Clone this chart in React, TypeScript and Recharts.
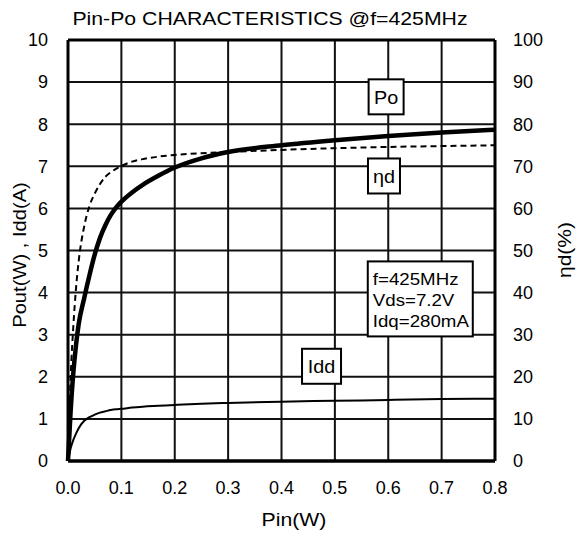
import { LineChart, Line, XAxis, YAxis, CartesianGrid, ReferenceLine, ReferenceDot } from 'recharts';

const TITLE = 'Pin-Po CHARACTERISTICS @f=425MHz';
const PIN = [0, 0.005, 0.01, 0.015, 0.02, 0.03, 0.04, 0.05, 0.06, 0.07, 0.08, 0.09, 0.1, 0.12, 0.14, 0.17, 0.2, 0.25, 0.3, 0.4, 0.5, 0.6, 0.7, 0.8];
const PO = [0, 1.2, 2.1, 2.75, 3.25, 3.85, 4.4, 4.9, 5.3, 5.6, 5.84, 6.02, 6.16, 6.38, 6.56, 6.78, 6.97, 7.19, 7.34, 7.5, 7.62, 7.72, 7.8, 7.87];
const EFF = [0, 20, 32, 41, 47.5, 55.5, 60.5, 63.5, 65.8, 67.5, 68.6, 69.4, 70.1, 71.1, 71.7, 72.3, 72.7, 73.1, 73.4, 73.9, 74.3, 74.6, 74.8, 75];
const IDD = [0, 0.3, 0.5, 0.65, 0.78, 0.95, 1.04, 1.1, 1.15, 1.18, 1.21, 1.23, 1.24, 1.27, 1.29, 1.31, 1.33, 1.36, 1.38, 1.41, 1.43, 1.45, 1.47, 1.48];

const X_TICKS = [0, 0.1, 0.2, 0.3, 0.4, 0.5, 0.6, 0.7, 0.8];
const LEFT_TICKS = [0, 1, 2, 3, 4, 5, 6, 7, 8, 9, 10];
const RIGHT_TICKS = [0, 10, 20, 30, 40, 50, 60, 70, 80, 90, 100];

const CONDITIONS = ['f=425MHz', 'Vds=7.2V', 'Idq=280mA'];

const FONT = '"Liberation Sans", Arial, sans-serif';

const data = PIN.map((pin, i) => ({ pin, po: PO[i], eff: EFF[i], idd: IDD[i] }));

// boxed callouts on the plot
function TagBox({ cx, cy, w, h, lines }: any) {
  const multi = lines.length > 1;
  const lh = 21;
  const top = cy - ((lines.length - 1) * lh) / 2;
  const tx = multi ? cx - w / 2 + 5 : cx;
  return (
    <g>
      <rect x={cx - w / 2} y={cy - h / 2} width={w} height={h} fill="#fff" stroke="#000" strokeWidth={2} />
      {lines.map((t: string, i: number) => (
        <text
          key={t}
          x={0}
          y={0}
          transform={`translate(${tx}, ${top + i * lh + 1}) scale(1.1, 1)`}
          textAnchor={multi ? 'start' : 'middle'}
          dominantBaseline="central"
          fontSize={multi ? 17 : 18}
          fontFamily={FONT}
          fill="#000"
        >
          {t}
        </text>
      ))}
    </g>
  );
}

function AxisTitle({ viewBox, value, ox, oy, rot, stretch }: any) {
  const x = viewBox.x + ox;
  const y = viewBox.y + oy;
  return (
    <text
      x={0}
      y={0}
      transform={`translate(${x}, ${y}) rotate(${rot}) scale(${stretch}, 1)`}
      textAnchor="middle"
      dominantBaseline="central"
      fontSize={18}
      fontFamily={FONT}
      fill="#000"
    >
      {value}
    </text>
  );
}

export default function App() {
  const tick = { fill: '#000', fontSize: 18, fontFamily: FONT };
  return (
    <div style={{ position: 'absolute', left: 0, top: 0, width: 587, height: 534, background: '#fff' }}>
      <div
        style={{
          position: 'absolute',
          left: 0,
          width: 540,
          top: 9,
          textAlign: 'center',
          fontFamily: FONT,
          fontSize: 18,
          whiteSpace: 'nowrap',
          transform: 'scaleX(1.18)',
        }}
      >
        {TITLE}
      </div>
      <LineChart width={587} height={534} data={data} margin={{ top: 40, right: 0, bottom: 0, left: 0 }}>
        <CartesianGrid stroke="#111" strokeWidth={2} yAxisId="left" />
        <XAxis
          dataKey="pin"
          type="number"
          domain={[0, 0.8]}
          ticks={X_TICKS}
          tickFormatter={(v: number) => v.toFixed(1)}
          tick={tick}
          tickLine={false}
          tickMargin={14}
          axisLine={{ stroke: '#000', strokeWidth: 3.5 }}
          height={73}
          label={<AxisTitle value="Pin(W)" ox={226} oy={59} rot={0} stretch={1.18} />}
        />
        <YAxis
          yAxisId="left"
          domain={[0, 10]}
          ticks={LEFT_TICKS}
          tick={tick}
          tickLine={false}
          tickMargin={14}
          width={68}
          axisLine={{ stroke: '#000', strokeWidth: 3 }}
          label={<AxisTitle value="Pout(W) , Idd(A)" ox={20} oy={215} rot={-90} stretch={1.12} />}
        />
        <YAxis
          yAxisId="right"
          orientation="right"
          domain={[0, 100]}
          ticks={RIGHT_TICKS}
          tick={tick}
          tickLine={false}
          tickMargin={12}
          width={92}
          axisLine={{ stroke: '#000', strokeWidth: 3 }}
          label={<AxisTitle value="ηd(%)" ox={70} oy={210} rot={-90} stretch={1.17} />}
        />
        <ReferenceLine yAxisId="left" y={10} stroke="#000" strokeWidth={3} />
        <Line yAxisId="left" dataKey="idd" type="monotone" stroke="#000" strokeWidth={2} dot={false} isAnimationActive={false} />
        <Line yAxisId="right" dataKey="eff" type="monotone" stroke="#000" strokeWidth={2} strokeDasharray="6 4" dot={false} isAnimationActive={false} />
        <Line yAxisId="left" dataKey="po" type="monotone" stroke="#000" strokeWidth={4.5} dot={false} isAnimationActive={false} />
        <ReferenceDot yAxisId="left" x={0.596} y={8.65} shape={(p: any) => <TagBox cx={p.cx} cy={p.cy} w={35} h={35} lines={['Po']} />} />
        <ReferenceDot yAxisId="left" x={0.592} y={6.77} shape={(p: any) => <TagBox cx={p.cx} cy={p.cy} w={32} h={35} lines={['ηd']} />} />
        <ReferenceDot yAxisId="left" x={0.475} y={2.25} shape={(p: any) => <TagBox cx={p.cx} cy={p.cy} w={39} h={35} lines={['Idd']} />} />
        <ReferenceDot yAxisId="left" x={0.66} y={3.85} shape={(p: any) => <TagBox cx={p.cx} cy={p.cy} w={105} h={75} lines={CONDITIONS} />} />
      </LineChart>
    </div>
  );
}
